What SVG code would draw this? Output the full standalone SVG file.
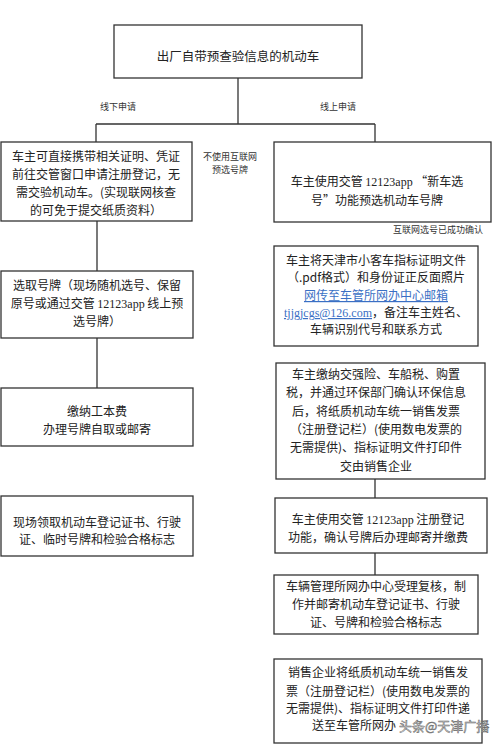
<svg xmlns="http://www.w3.org/2000/svg" width="500" height="744" viewBox="0 0 500 744">
<style>
.box{fill:#fff;stroke:#333;stroke-width:1.3}
.t{font-family:"Noto Sans CJK SC","Liberation Sans",sans-serif;font-size:12px;fill:#222;text-anchor:middle}
.s{font-family:"Noto Sans CJK SC","Liberation Sans",sans-serif;font-size:9px;fill:#333;text-anchor:middle}
.e{font-family:"Liberation Serif",serif}
.lk{fill:#3a6fc4;text-decoration:underline}
.c{stroke:#333;stroke-width:1.3;fill:none}
.wm{font-family:"Noto Sans CJK SC",sans-serif;font-size:13px;fill:#ddd;stroke:#666;stroke-width:0.5}
</style>
<rect width="500" height="744" fill="#fff"/>
<g id="connectors">
<path class="c" d="M238 78V124M96 124H375M96 124V142M375 124V142M97 221V271M97 338V388M375 479V498M375 553V575"/>
</g>
<g id="labels">
<text class="s" x="118" y="110">线下申请</text>
<text class="s" x="338" y="110">线上申请</text>
<text class="s" x="230" y="160">不使用互联网</text>
<text class="s" x="230" y="173">预选号牌</text>
<text class="s" x="438" y="233">互联网选号已成功确认</text>
</g>
<g id="n0">
<rect class="box" x="114" y="25" width="248" height="53"/>
<text class="t" x="238" y="61" style="font-size:12.5px">出厂自带预查验信息的机动车</text>
</g>
<g id="l1">
<rect class="box" x="1" y="142" width="191" height="79"/>
<text class="t" x="96" y="161">车主可直接携带相关证明、凭证</text>
<text class="t" x="96" y="179">前往交管窗口申请注册登记，无</text>
<text class="t" x="96" y="197">需交验机动车。(实现联网核查</text>
<text class="t" x="96" y="215">的可免于提交纸质资料）</text>
</g>
<g id="l2">
<rect class="box" x="1" y="271" width="192" height="67"/>
<text class="t" x="97" y="290">选取号牌（现场随机选号、保留</text>
<text class="t" x="97" y="308">原号或通过交管 <tspan class="e">12123app</tspan> 线上预</text>
<text class="t" x="97" y="326">选号牌）</text>
</g>
<g id="l3">
<rect class="box" x="1" y="388" width="192" height="58"/>
<text class="t" x="97" y="416">缴纳工本费</text>
<text class="t" x="97" y="434">办理号牌自取或邮寄</text>
</g>
<g id="l4">
<rect class="box" x="1" y="496" width="192" height="60"/>
<text class="t" x="97" y="527">现场领取机动车登记证书、行驶</text>
<text class="t" x="97" y="544">证、临时号牌和检验合格标志</text>
</g>
<g id="r1">
<rect class="box" x="274" y="142" width="217" height="80"/>
<text class="t" x="377" y="186">车主使用交管 <tspan class="e">12123app</tspan> “新车选</text>
<text class="t" x="377" y="205">号”功能预选机动车号牌</text>
</g>
<g id="r2">
<rect class="box" x="274" y="246" width="204" height="100"/>
<text class="t" x="376" y="265">车主将天津市小客车指标证明文件</text>
<text class="t" x="376" y="282">（.pdf格式）和身份证正反面照片</text>
<text class="t lk" x="376" y="300">网传至车管所网办中心邮箱</text>
<text class="t" x="376" y="317"><tspan class="e lk">tjjgjcgs@126.com</tspan>，备注车主姓名、</text>
<text class="t" x="376" y="334">车辆识别代号和联系方式</text>
</g>
<g id="r3">
<rect class="box" x="276" y="363" width="209" height="116"/>
<text class="t" x="376" y="379">车主缴纳交强险、车船税、购置</text>
<text class="t" x="376" y="397">税，并通过环保部门确认环保信息</text>
<text class="t" x="376" y="416">后，将纸质机动车统一销售发票</text>
<text class="t" x="376" y="434">（注册登记栏）(使用数电发票的</text>
<text class="t" x="376" y="452">无需提供)、指标证明文件打印件</text>
<text class="t" x="376" y="471">交由销售企业</text>
</g>
<g id="r4">
<rect class="box" x="275" y="498" width="212" height="55"/>
<text class="t" x="378" y="524">车主使用交管 <tspan class="e">12123app</tspan> 注册登记</text>
<text class="t" x="378" y="542">功能，确认号牌后办理邮寄并缴费</text>
</g>
<g id="r5">
<rect class="box" x="274" y="575" width="204" height="59"/>
<text class="t" x="376" y="591">车辆管理所网办中心受理复核，制</text>
<text class="t" x="376" y="609">作并邮寄机动车登记证书、行驶</text>
<text class="t" x="376" y="627">证、号牌和检验合格标志</text>
</g>
<g id="r6">
<rect class="box" x="274" y="659" width="208" height="84"/>
<text class="t" x="378" y="677">销售企业将纸质机动车统一销售发</text>
<text class="t" x="378" y="696">票（注册登记栏）(使用数电发票的</text>
<text class="t" x="378" y="713">无需提供)、指标证明文件打印件递</text>
<text class="t" x="312" y="730" style="text-anchor:start">送至车管所网办</text>
<text class="wm" x="399" y="731">头条@天津广播</text>
</g>
</svg>
